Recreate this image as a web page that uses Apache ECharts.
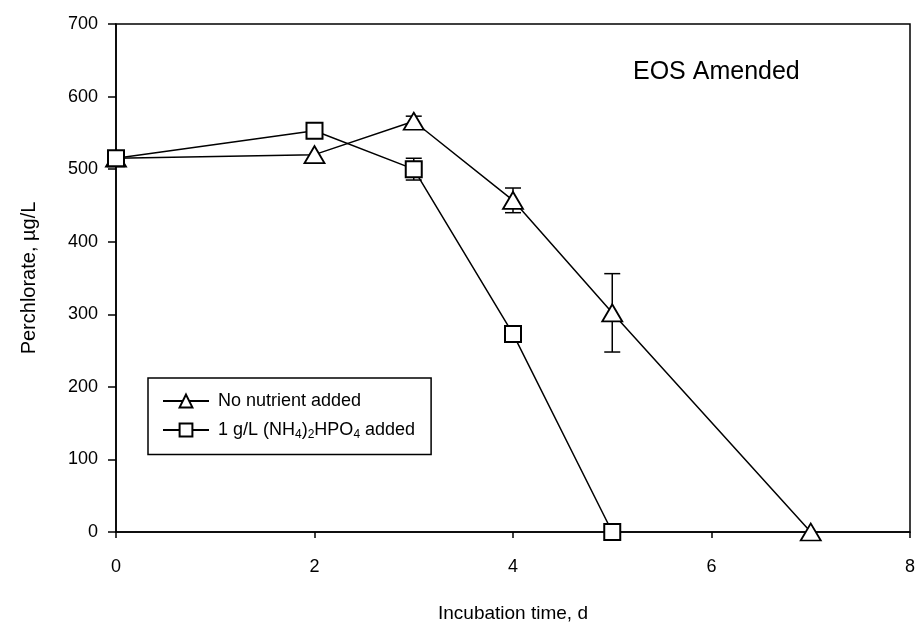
<!DOCTYPE html>
<html><head><meta charset="utf-8">
<script src="https://cdn.jsdelivr.net/npm/echarts@6/dist/echarts.min.js"></script>
<style>html,body{margin:0;padding:0;background:#fff}#c{width:920px;height:622px}</style>
</head><body><div id="c"></div>
<script>
var xNo = [0, 2, 3, 4, 5, 7];
var yNo = [515, 520, 566, 457, 302, 0];
var eNo = [0, 0, 7, 17, 54, 0];
var xNh = [0, 2, 3, 4, 5];
var yNh = [515, 553, 500, 273, 0];
var eNh = [0, 0, 15, 6, 0];
var nameNo = 'No nutrient added';
var nameNh = '1 g/L (NH4)2HPO4 added';

function pairs(xs, ys){ return xs.map(function(x,i){return [x, ys[i]];}); }
function errData(xs, ys, es){ var o=[]; xs.forEach(function(x,i){ if(es[i]>0) o.push([x, ys[i]-es[i], ys[i]+es[i]]); }); return o; }
function errRender(params, api){
  var x = api.value(0), lo = api.value(1), hi = api.value(2);
  var p1 = api.coord([x, lo]), p2 = api.coord([x, hi]);
  var w = 8, st = {stroke:'#000', lineWidth:1.5};
  return {type:'group', children:[
    {type:'line', shape:{x1:p1[0],y1:p1[1],x2:p2[0],y2:p2[1]}, style:st},
    {type:'line', shape:{x1:p1[0]-w,y1:p1[1],x2:p1[0]+w,y2:p1[1]}, style:st},
    {type:'line', shape:{x1:p2[0]-w,y1:p2[1],x2:p2[0]+w,y2:p2[1]}, style:st}
  ]};
}
var F = 'Liberation Sans, Arial, sans-serif';
var chart = echarts.init(document.getElementById('c'));
chart.setOption({
  animation:false,
  backgroundColor:'#fff',
  grid:{left:116, top:24, right:10, bottom:90, outerBoundsMode:'none', containLabel:false, show:true, borderColor:'#000', borderWidth:1.5},
  title:{text:'EOS Amended', left:628, top:55, textStyle:{fontFamily:F, fontSize:25, fontWeight:'normal', color:'#000'}},
  legend:{
    orient:'vertical', left:148, top:378, itemWidth:46, itemHeight:16, itemGap:11,
    padding:[14,16,14,14], borderColor:'#000', borderWidth:1.5, backgroundColor:'#fff',
    data:[nameNo, nameNh],
    formatter:function(n){ return n===nameNh ? '1 g/L (NH{s|4}){s|2}HPO{s|4} added' : n; },
    textStyle:{fontFamily:F, fontSize:18, color:'#000', padding:[0,0,0,4], rich:{s:{fontFamily:F, fontSize:12, color:'#000', verticalAlign:'bottom', padding:[9,0,0,0]}}}
  },
  xAxis:{type:'value', min:0, max:8, interval:2,
    name:'Incubation time, d', nameLocation:'middle', nameGap:72,
    nameTextStyle:{fontFamily:F, fontSize:19, color:'#000'},
    axisLine:{lineStyle:{color:'#000', width:1.5}},
    axisTick:{show:true, inside:false, length:6, lineStyle:{color:'#000', width:1.5}},
    axisLabel:{fontFamily:F, fontSize:18, color:'#000', margin:26},
    splitLine:{show:false}},
  yAxis:{type:'value', min:0, max:700, interval:100,
    name:'Perchlorate, \u00b5g/L', nameLocation:'middle', nameGap:77,
    nameTextStyle:{fontFamily:F, fontSize:20, color:'#000'},
    axisLine:{lineStyle:{color:'#000', width:1.5}},
    axisTick:{show:true, inside:false, length:8, lineStyle:{color:'#000', width:1.5}},
    axisLabel:{fontFamily:F, fontSize:18, color:'#000', margin:18},
    splitLine:{show:false}},
  series:[
    {type:'custom', renderItem:errRender, data:errData(xNo,yNo,eNo), encode:{x:0,y:[1,2]}, z:1, silent:true},
    {type:'custom', renderItem:errRender, data:errData(xNh,yNh,eNh), encode:{x:0,y:[1,2]}, z:1, silent:true},
    {name:nameNo, type:'line', data:pairs(xNo,yNo), symbol:'triangle', symbolSize:[20,17],
      lineStyle:{color:'#000', width:1.5}, itemStyle:{color:'#fff', borderColor:'#000', borderWidth:1.8}, z:3},
    {name:nameNh, type:'line', data:pairs(xNh,yNh), symbol:'rect', symbolSize:16,
      lineStyle:{color:'#000', width:1.5}, itemStyle:{color:'#fff', borderColor:'#000', borderWidth:2}, z:4}
  ]
});
</script></body></html>
